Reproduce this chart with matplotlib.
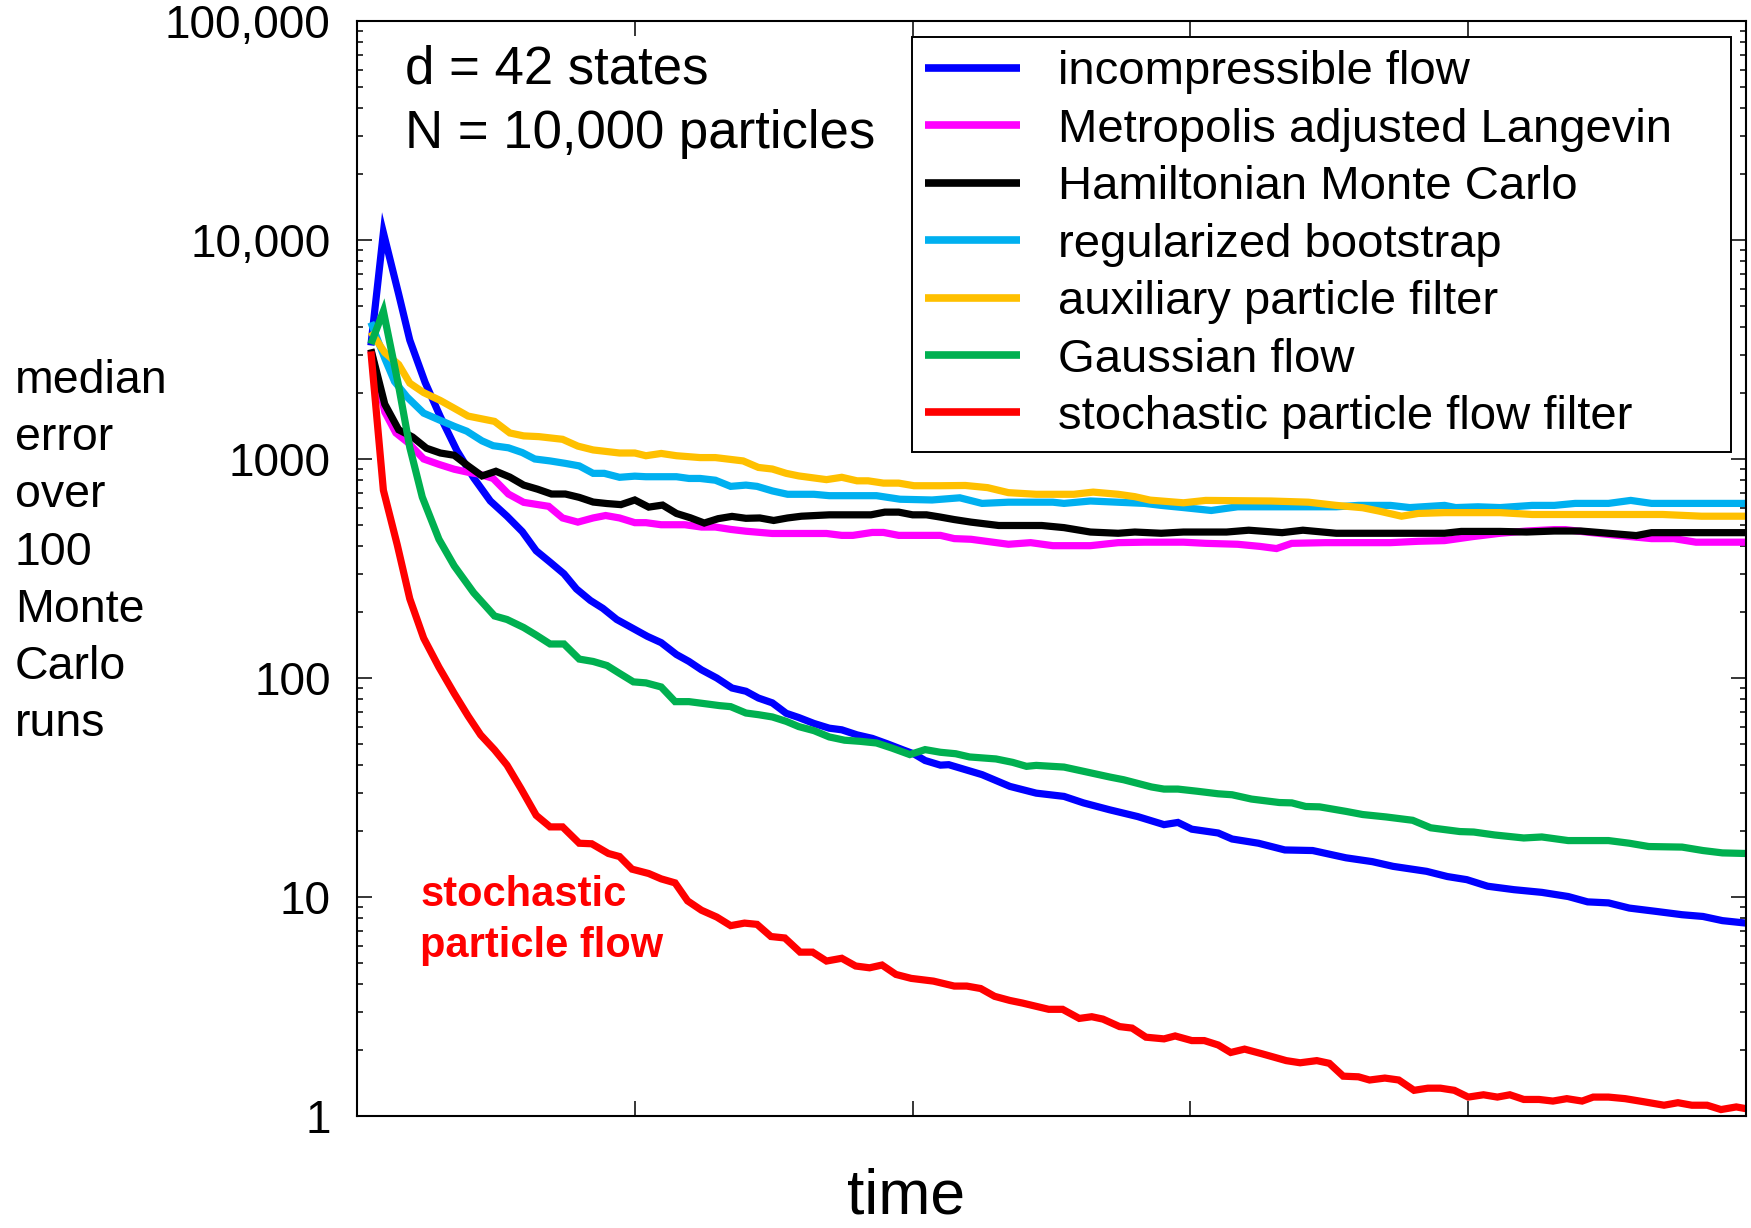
import matplotlib
matplotlib.use("Agg")
import matplotlib.pyplot as plt
from matplotlib.ticker import LogLocator, NullFormatter

plt.rcParams['font.family'] = ['Liberation Sans', 'DejaVu Sans']

# ---------------- data ----------------
labels = ["incompressible flow", "Metropolis adjusted Langevin", "Hamiltonian Monte Carlo",
          "regularized bootstrap", "auxiliary particle filter", "Gaussian flow",
          "stochastic particle flow filter"]
colors = ["#0000FF", "#FF00FF", "#000000", "#00B0F0", "#FFC000", "#00B050", "#FF0000"]

t_incomp = [1, 1.9, 3.0, 3.8, 4.9, 6.0, 7.2, 8.4, 9.6, 10.8, 11.9, 12.9, 13.9, 14.9, 15.8, 16.8,
            17.7, 18.7, 19.9, 20.9, 21.9, 23.0, 23.9, 24.8, 25.9, 27.0, 28.0, 28.9, 29.9, 30.9,
            31.8, 32.9, 34.0, 34.9, 36.0, 37.1, 38.2, 39.3, 40.1, 40.9, 42.0, 42.6, 45.0, 47.0,
            48.9, 50.9, 52.3, 54.2, 56.2, 58.1, 59.1, 60.1, 62.0, 63.0, 64.9, 66.8, 68.8, 71.2,
            73.1, 74.6, 77.0, 78.5, 79.9, 81.4, 83.3, 85.3, 87.2, 88.6, 90.1, 91.6, 93.5, 95.4,
            96.9, 98.3, 100]
v_incomp = [3300, 10800, 5660, 3490, 2240, 1560, 1090, 820, 643, 548, 466, 381, 338, 299, 255, 226,
            208, 185, 168, 155, 145, 128, 119, 109, 100, 90, 87, 81, 77, 69,
            66, 62, 59, 58, 55, 53, 50, 47, 45, 42, 40, 40.2, 36.2, 32,
            29.8, 28.8, 26.9, 25, 23.3, 21.4, 21.9, 20.4, 19.6, 18.4, 17.6, 16.4, 16.3, 15.1,
            14.5, 13.8, 13.1, 12.4, 12.0, 11.2, 10.8, 10.5, 10.05, 9.5, 9.4, 8.9, 8.6, 8.3,
            8.15, 7.8, 7.6]

t_mala = [1, 2, 2.8, 3.7, 4.8, 5.9, 7.0, 8.1, 8.8, 9.8, 10.9, 12.0, 13.8, 14.8, 15.9, 17.0, 17.9,
          18.9, 20.0, 20.8, 21.9, 23.6, 24.8, 25.8, 26.9, 28.0, 29.9, 31.8, 33.8, 34.9, 35.7,
          37.1, 37.9, 39.0, 42.0, 43.0, 44.2, 46.9, 48.5, 50.1, 52.8, 54.8, 56.7, 59.5, 61.1,
          63.4, 65.0, 66.2, 67.3, 69.7, 74.4, 76.4, 78.3, 80.3, 82.3, 84.2, 86.2, 87.0, 88.5,
          90.9, 93.2, 94.8, 96.4, 100]
v_mala = [3150, 1640, 1315, 1185, 1000, 945, 898, 867, 853, 815, 692, 634, 608, 538, 515, 538, 552,
          538, 512, 512, 501, 501, 489, 489, 477, 468, 457, 457, 457, 448, 448,
          462, 462, 448, 448, 433, 430, 408, 415, 402, 402, 415, 417, 417, 412,
          408, 399, 390, 412, 415, 415, 421, 424, 442, 458, 469, 476, 476, 464,
          447, 433, 433, 417, 417]

t_hmc = [1, 2, 3, 4, 5, 6, 7, 8, 9, 10, 11, 12, 13, 14, 15, 16, 17, 18, 19, 20, 21, 22, 23, 24,
         25, 26, 27, 28, 29, 30, 31, 32, 34, 37, 38, 39, 40, 41, 42, 43, 44.2, 46.2, 49.3, 50.9,
         52.8, 54.8, 56.0, 57.9, 59.5, 62.6, 64.2, 66.6, 68.1, 70.5, 74.4, 78.3, 79.5, 82.3,
         84.2, 86.2, 88.1, 90.1, 92.1, 93.2, 100]
v_hmc = [3170, 1780, 1360, 1260, 1120, 1065, 1040, 930, 837, 879, 827, 760, 728, 692, 692, 668,
         636, 626, 619, 650, 603, 616, 564, 539, 510, 534, 547, 536, 538, 524, 538, 548, 556,
         556, 572, 572, 556, 556, 543, 529, 515, 497, 497, 486, 464, 458, 464, 458, 464, 464,
         473, 461, 473, 458, 458, 458, 467, 467, 464, 469, 469, 458, 447, 461, 461]

t_boot = [1, 2, 2.7, 3.6, 4.8, 5.9, 7.0, 7.9, 9.0, 9.8, 10.9, 11.9, 12.8, 13.9, 15.0, 16.0, 17.0,
          17.8, 18.9, 20.0, 20.8, 21.9, 23.0, 23.9, 24.7, 25.8, 26.9, 28.0, 28.8, 29.9, 31.0,
          32.9, 34.0, 37.4, 39.1, 41.4, 43.4, 45.0, 46.9, 50.1, 50.9, 52.8, 56.7, 57.9, 59.5,
          61.5, 63.4, 66.6, 70.5, 72.1, 74.4, 75.8, 78.3, 79.1, 80.7, 82.3, 84.6, 86.2, 87.7,
          90.1, 91.7, 93.2, 100]
v_boot = [4210, 2880, 2260, 1920, 1620, 1510, 1410, 1340, 1210, 1150, 1125, 1070, 1000, 980, 955,
          930, 860, 860, 825, 835, 830, 830, 830, 815, 815, 800, 750, 760, 750, 715, 690,
          690, 680, 680, 655, 650, 665, 627, 635, 635, 627, 643, 627, 614, 600,
          582, 605, 605, 605, 614, 614, 600, 614, 600, 605, 600, 614, 614, 627,
          627, 647, 627, 627]

t_aux = [1, 2, 3, 3.8, 4.8, 6, 7, 8, 9.9, 11.0, 12.0, 13.1, 14.8, 15.9, 17.0, 18.9, 20.0, 20.8,
         21.9, 23.0, 24.7, 25.8, 27.8, 28.9, 29.9, 30.9, 31.8, 33.8, 34.9, 36.0, 36.8, 37.9,
         39.0, 40.1, 42.0, 43.8, 45.4, 46.9, 48.9, 51.6, 53.0, 54.8, 56.0, 57.1, 59.5, 61.1,
         65.8, 68.5, 70.5, 72.4, 73.6, 75.2, 76.4, 78.3, 82.3, 84.6, 94.0, 96.8, 100]
v_aux = [3810, 3060, 2700, 2220, 2010, 1850, 1705, 1570, 1485, 1315, 1275, 1265, 1230, 1145, 1100,
         1065, 1065, 1035, 1060, 1035, 1015, 1015, 980, 915, 900, 860, 837, 805, 825, 795, 795,
         776, 776, 755, 755, 757, 740, 702, 690, 690, 706, 690, 673, 649, 631, 647,
         643, 635, 614, 599, 578, 548, 564, 569, 569, 558, 558, 548, 548]

t_gauss = [1, 1.9, 3.0, 3.8, 4.7, 5.9, 7.0, 8.4, 9.9, 10.8, 12.0, 12.9, 13.9, 14.9, 16.0, 17.0,
           18.0, 18.9, 19.9, 20.8, 21.9, 22.9, 23.9, 25.0, 26.1, 26.9, 28.0, 28.9, 29.9, 30.9,
           31.8, 32.9, 34.0, 35.1, 36.2, 37.4, 38.5, 39.8, 40.9, 42.0, 43.1, 44.1, 46.0, 47.2,
           48.2, 48.9, 50.9, 52.3, 54.2, 55.2, 57.2, 58.1, 59.1, 60.5, 62.0, 63.0, 64.4, 66.4,
           67.3, 68.3, 69.3, 71.2, 72.4, 74.1, 76.0, 77.3, 79.4, 80.4, 81.9, 84.0, 85.3, 87.2,
           90.1, 91.6, 93.0, 95.4, 96.9, 98.3, 100]
v_gauss = [3350, 4730, 2150, 1130, 670, 430, 325, 245, 192, 185, 170, 157, 143, 143, 122, 119,
           114, 105, 96, 95, 91, 78, 78, 76.4, 74.8, 74, 69.2, 68, 66.4, 63.4,
           60, 57.5, 53.8, 52, 51.4, 50.5, 47.9, 44.7, 47.1, 45.8, 45.1, 43.6, 42.7, 41.2,
           39.5, 39.9, 39.2, 37.5, 35.3, 34.3, 31.8, 31.1, 31.1, 30.4, 29.6, 29.3, 28, 27,
           26.9, 25.9, 25.8, 24.6, 23.8, 23.2, 22.4, 20.7, 19.9, 19.8, 19.2, 18.6, 18.8, 18.1,
           18.1, 17.6, 17.0, 16.9, 16.3, 15.9, 15.8]

t_spff = [1, 1.9, 2.9, 3.8, 4.8, 5.9, 7.0, 8.0, 8.9, 9.9, 10.8, 11.8, 12.9, 13.9, 14.8, 16.0, 16.9,
          18.1, 18.9, 19.8, 21.0, 21.9, 22.9, 23.8, 24.8, 25.9, 26.9, 27.9, 28.8, 29.8, 30.8,
          31.9, 32.8, 33.8, 34.9, 35.9, 36.9, 37.8, 38.8, 39.9, 41.5, 43.0, 43.9, 44.9, 45.9,
          47.0, 47.9, 49.8, 50.8, 52.0, 52.9, 53.7, 54.9, 55.8, 56.8, 58.1, 58.9, 60.1, 61.0,
          62.0, 62.9, 63.9, 65.2, 66.9, 67.9, 69.1, 70.0, 71.0, 72.1, 72.9, 74.0, 75.0, 76.1,
          77.1, 78.0, 79.0, 80.0, 81.1, 82.1, 83.0, 84.0, 85.1, 86.1, 87.1, 88.2, 89.0, 90.1,
          91.3, 92.7, 94.1, 95.1, 96.1, 97.2, 98.2, 99.3, 100]
v_spff = [3100, 720, 405, 230, 152, 112, 85, 67, 55, 47, 40, 31.3, 23.6, 20.9, 20.9, 17.6, 17.5,
          15.8, 15.3, 13.4, 12.8, 12.1, 11.6, 9.6, 8.7, 8.1, 7.4, 7.6, 7.5, 6.6, 6.5,
          5.6, 5.6, 5.1, 5.25, 4.84, 4.75, 4.89, 4.43, 4.25, 4.13, 3.92, 3.92, 3.82, 3.52,
          3.37, 3.28, 3.07, 3.07, 2.79, 2.84, 2.77, 2.56, 2.52, 2.29, 2.25, 2.32, 2.21, 2.21,
          2.11, 1.95, 2.02, 1.92, 1.79, 1.75, 1.79, 1.74, 1.52, 1.51, 1.46, 1.49, 1.46, 1.31,
          1.34, 1.34, 1.31, 1.22, 1.25, 1.22, 1.25, 1.19, 1.19, 1.17, 1.20, 1.17, 1.22, 1.22,
          1.20, 1.16, 1.12, 1.15, 1.12, 1.12, 1.07, 1.10, 1.08]

y_ticks = [1, 10, 100, 1000, 10000, 100000]
y_ticklabels = ["1", "10", "100", "1000", "10,000", "100,000"]
x_ticks = [20, 40, 60, 80]
ylabel_lines = ["median", "error", "over", "100", "Monte", "Carlo", "runs"]

# ---------------- figure ----------------
W, H = 1751, 1228
fig = plt.figure(figsize=(W / 100, H / 100), dpi=100)
ax = fig.add_axes([357 / W, 1 - 1116 / H, (1746 - 357) / W, (1116 - 21) / H])

all_t = [t_incomp, t_mala, t_hmc, t_boot, t_aux, t_gauss, t_spff]
all_v = [v_incomp, v_mala, v_hmc, v_boot, v_aux, v_gauss, v_spff]
for t, v, c, lab in zip(all_t, all_v, colors, labels):
    ax.plot(t, v, color=c, lw=5.2, label=lab, solid_joinstyle='miter', solid_capstyle='butt')

ax.set_yscale('log')
ax.set_xlim(0, 100)
ax.set_ylim(1, 1e5)
ax.set_yticks(y_ticks)
ax.set_yticklabels(y_ticklabels)
ax.yaxis.set_minor_locator(LogLocator(base=10, subs=range(2, 10)))
ax.yaxis.set_minor_formatter(NullFormatter())
ax.set_xticks(x_ticks)
ax.set_xticklabels([])
ax.tick_params(which='both', direction='in', top=True, right=True, width=1.1, color='black')
ax.tick_params(which='major', length=10.5)
ax.tick_params(which='minor', length=4.3)
ax.tick_params(axis='y', labelsize=33, pad=19)
for s in ax.spines.values():
    s.set_linewidth(1.5)

leg = ax.legend(loc='upper left', bbox_to_anchor=(912 / W, 1 - 450 / H, (1731 - 912) / W, 413 / H),
                bbox_transform=fig.transFigure, mode='expand', borderaxespad=0,
                fontsize=34, handlelength=2.0, handletextpad=0.82, borderpad=0.28,
                labelspacing=0.285, fancybox=False, framealpha=1, edgecolor='black')
leg.get_frame().set_linewidth(1.4)
for ln in leg.get_lines():
    ln.set_linewidth(5.5)

fig.text(405 / W, 1 - 84 / H, "d = 42 states", fontsize=38, ha='left', va='baseline')
fig.text(405 / W, 1 - 148 / H, "N = 10,000 particles", fontsize=38, ha='left', va='baseline')

for i, s in enumerate(ylabel_lines):
    fig.text(15 / W, 1 - (393 + 57.2 * i) / H, s, fontsize=33.5, ha='left', va='baseline')

fig.text(906 / W, 1 - 1213 / H, "time", fontsize=45, ha='center', va='baseline')

fig.text(420 / W, 1 - 906 / H, "stochastic", fontsize=30, fontweight='bold', color='#FF0000',
         ha='left', va='baseline')
fig.text(420 / W, 1 - 957 / H, "particle flow", fontsize=30, fontweight='bold', color='#FF0000',
         ha='left', va='baseline')

fig.savefig("out.png", dpi=100)
